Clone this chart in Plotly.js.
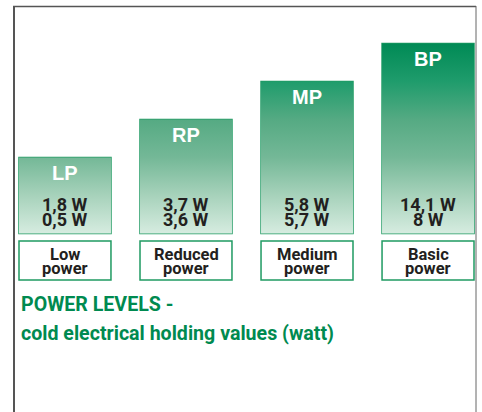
<!DOCTYPE html>
<html>
<head>
<meta charset="utf-8">
<script src="https://cdn.plot.ly/plotly-3.0.1.min.js"></script>
<style>html,body{margin:0;padding:0;background:#fff;}#chart{width:482px;height:412px;}</style>
</head>
<body>
<div id="chart"></div>
<script>
// ---- data ----
var codes = ['LP', 'RP', 'MP', 'BP'];
var levelNamesTop = ['Low', 'Reduced', 'Medium', 'Basic'];
var levelNamesBottom = ['power', 'power', 'power', 'power'];
var barHeights = [2, 3, 4, 5];            // relative step height of each bar
var valueHigh = [1.8, 3.7, 5.8, 14.1];    // watt, first line
var valueLow = [0.5, 3.6, 5.7, 8];        // watt, second line
var titleLine1 = 'POWER LEVELS -';
var titleLine2 = 'cold electrical holding values (watt)';

// ---- styling ----
var GREEN = '#1f9a62';
var TITLE_GREEN = '#008a50';
var DARK = '#231f20';
var NARROW = 'Roboto, Liberation Sans, sans-serif';
var SANS = 'Liberation Sans, Arial, Helvetica, sans-serif';
var BAR_W = 0.76;

function fmt(v) { return String(v).replace('.', ',') + ' W'; }

var idx = codes.map(function (_, i) { return i; });
var traces = [];

var grad = [[0, '#d6ece0'], [0.2, '#a7d2bb'], [0.4, '#74b897'], [0.6, '#55aa83'], [0.8, '#1f9c6c'], [1, '#008a55']];
idx.forEach(function (i) {
  traces.push({
    type: 'scatter', mode: 'lines',
    x: [i - BAR_W / 2, i + BAR_W / 2], y: [barHeights[i], barHeights[i]],
    line: {width: 0, color: 'rgba(0,0,0,0)'},
    fill: 'tozeroy',
    fillgradient: {type: 'vertical', colorscale: grad, start: 0, stop: barHeights[barHeights.length - 1]},
    hoverinfo: 'skip', showlegend: false
  });
});

traces.push({
  type: 'bar', x: idx, y: barHeights, width: BAR_W,
  marker: {color: 'rgba(0,0,0,0)', line: {color: GREEN, width: 1.5}},
  hoverinfo: 'skip', showlegend: false
});

var boxBase = -1.224, boxHeight = 1.027;
traces.push({
  type: 'bar', x: idx, y: idx.map(function () { return boxHeight; }),
  base: boxBase, width: BAR_W,
  marker: {color: '#ffffff', line: {color: GREEN, width: 1.5}},
  hoverinfo: 'skip', showlegend: false
});

var ann = [];
idx.forEach(function (i) {
  ann.push({x: i, y: barHeights[i] - 0.42, text: '<b>' + codes[i] + '</b>', showarrow: false,
    font: {family: SANS, size: 20, color: '#ffffff'}, yanchor: 'middle'});
  ann.push({x: i, y: 0.77, text: '<b>' + fmt(valueHigh[i]) + '</b>', showarrow: false,
    font: {family: NARROW, size: 18, color: DARK}, yanchor: 'middle'});
  ann.push({x: i, y: 0.36, text: '<b>' + fmt(valueLow[i]) + '</b>', showarrow: false,
    font: {family: NARROW, size: 18, color: DARK}, yanchor: 'middle'});
  ann.push({x: i, y: -0.54, text: '<b>' + levelNamesTop[i] + '</b>', showarrow: false,
    font: {family: NARROW, size: 16.5, color: DARK}, yanchor: 'middle'});
  ann.push({x: i, y: -0.92, text: '<b>' + levelNamesBottom[i] + '</b>', showarrow: false,
    font: {family: NARROW, size: 16.5, color: DARK}, yanchor: 'middle'});
});
ann.push({xref: 'paper', x: 19 / 482, xanchor: 'left', y: -1.88, yanchor: 'middle',
  text: '<b>' + titleLine1 + '</b>', showarrow: false, font: {family: NARROW, size: 19.6, color: TITLE_GREEN}});
ann.push({xref: 'paper', x: 19 / 482, xanchor: 'left', y: -2.62, yanchor: 'middle',
  text: '<b>' + titleLine2 + '</b>', showarrow: false, font: {family: NARROW, size: 19.6, color: TITLE_GREEN}});

var layout = {
  width: 482, height: 412,
  margin: {l: 0, r: 0, t: 0, b: 0},
  paper_bgcolor: '#ffffff', plot_bgcolor: '#ffffff',
  showlegend: false, barmode: 'overlay',
  xaxis: {range: [-0.537, 3.446], visible: false, fixedrange: true},
  yaxis: {range: [-4.697, 6.145], visible: false, fixedrange: true},
  annotations: ann,
  shapes: [
    {type: 'line', xref: 'paper', yref: 'paper', x0: 14 / 482, x1: 14 / 482, y0: 1 - 6 / 412, y1: 0, line: {color: '#555555', width: 2}},
    {type: 'line', xref: 'paper', yref: 'paper', x0: 13 / 482, x1: 476 / 482, y0: 1 - 6.5 / 412, y1: 1 - 6.5 / 412, line: {color: '#555555', width: 1.5}},
    {type: 'line', xref: 'paper', yref: 'paper', x0: 476 / 482, x1: 476 / 482, y0: 1 - 6 / 412, y1: 0, line: {color: '#666666', width: 1}}
  ]
};

Plotly.newPlot('chart', traces, layout, {staticPlot: true, displayModeBar: false});
</script>
</body>
</html>
